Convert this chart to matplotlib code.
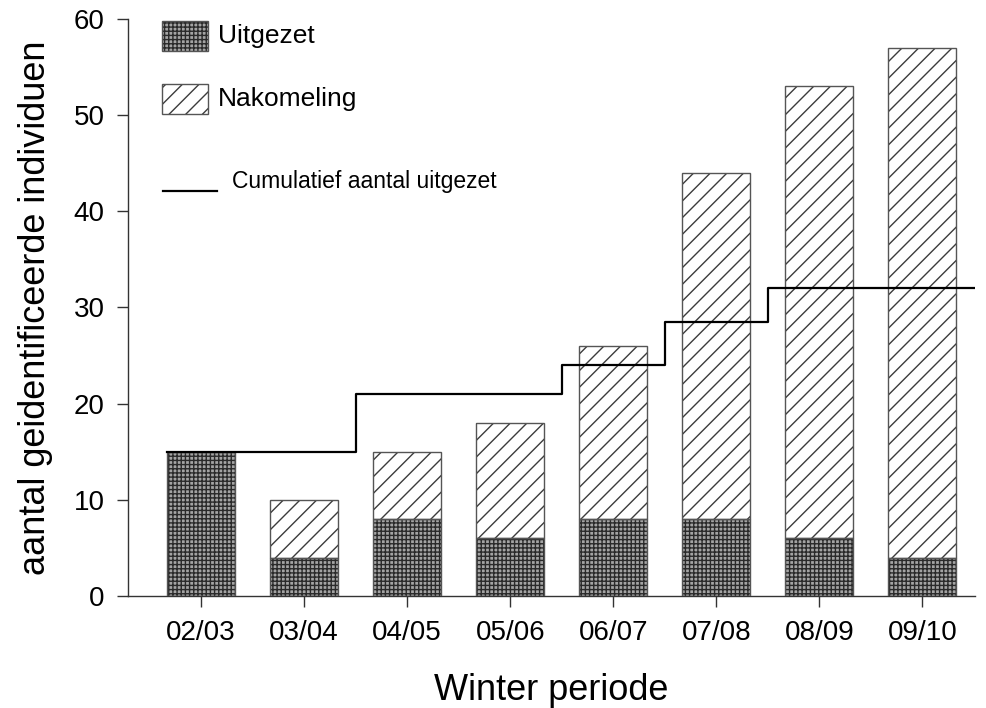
import numpy as np
import matplotlib.pyplot as plt
from matplotlib.patches import Rectangle

plt.rcParams['font.family'] = ['Liberation Sans', 'DejaVu Sans']
plt.rcParams['hatch.linewidth'] = 1.0

# data
perioden = ["02/03", "03/04", "04/05", "05/06", "06/07", "07/08", "08/09", "09/10"]
uitgezet = [15, 4, 8, 6, 8, 8, 6, 4]
totaal = [15, 10, 15, 18, 26, 44, 53, 57]
nakomeling = [t - u for t, u in zip(totaal, uitgezet)]

# cumulatief aantal uitgezet (trap-lijn), x in periode-index
cum_x = [-0.33, 1.5, 3.5, 4.5, 5.5, 7.5]
cum_y = [15, 21, 24, 28.5, 32, 32]

UIT_FACE = '#a4a4a4'
UIT_HATCH = '#2a2a2a'
NAK_HATCH = '#3c3c3c'
RAND = '#555555'

fig = plt.figure(figsize=(9.87, 7.08), dpi=100)
ax = fig.add_axes([0.1297, 0.1582, 0.8581, 0.815])

x = np.arange(len(perioden))
w = 0.66

# uitgezet: donker gerasterd
ax.bar(x, uitgezet, w, color=UIT_FACE, edgecolor=UIT_HATCH, hatch='++++', linewidth=0, zorder=2)
ax.bar(x, uitgezet, w, fill=False, edgecolor=RAND, linewidth=1.0, zorder=3)
# nakomeling: schuine arcering
ax.bar(x, nakomeling, w, bottom=uitgezet, color='white', edgecolor=NAK_HATCH, hatch='//', linewidth=0, zorder=2)
ax.bar(x, nakomeling, w, bottom=uitgezet, fill=False, edgecolor=RAND, linewidth=1.0, zorder=3)

ax.step(cum_x, cum_y, where='post', color='black', linewidth=1.6, zorder=4)

ax.set_xlim(-0.71, 7.51)
ax.set_ylim(0, 60)
ax.set_xticks(x)
ax.set_xticklabels(perioden)
ax.set_yticks(np.arange(0, 61, 10))

for s in ['top', 'right']:
    ax.spines[s].set_visible(False)
for s in ['left', 'bottom']:
    ax.spines[s].set_color('#333333')
    ax.spines[s].set_linewidth(1.0)
ax.tick_params(axis='both', labelsize=20, length=8, width=1.0, color='#333333', pad=9)

ax.set_xlabel("Winter periode", fontsize=26, labelpad=20)
ax.set_ylabel("aantal geidentificeerde individuen", fontsize=26, labelpad=15)

# legenda (handmatig)
ax.add_patch(Rectangle((0.040, 0.9445), 0.0543, 0.052, transform=ax.transAxes,
                       facecolor=UIT_FACE, edgecolor=UIT_HATCH, hatch='++++', linewidth=0, clip_on=False))
ax.add_patch(Rectangle((0.040, 0.9445), 0.0543, 0.052, transform=ax.transAxes,
                       fill=False, edgecolor=RAND, linewidth=1.0, clip_on=False))
ax.text(0.106, 0.9705, "Uitgezet", transform=ax.transAxes, fontsize=19, va='center')

ax.add_patch(Rectangle((0.040, 0.8353), 0.0543, 0.052, transform=ax.transAxes,
                       facecolor='white', edgecolor=NAK_HATCH, hatch='//', linewidth=0, clip_on=False))
ax.add_patch(Rectangle((0.040, 0.8353), 0.0543, 0.052, transform=ax.transAxes,
                       fill=False, edgecolor=RAND, linewidth=1.0, clip_on=False))
ax.text(0.106, 0.861, "Nakomeling", transform=ax.transAxes, fontsize=19, va='center')

ax.plot([0.041, 0.105], [0.7024, 0.7024], transform=ax.transAxes, color='black', linewidth=1.6)
ax.text(0.1228, 0.7175, "Cumulatief aantal uitgezet", transform=ax.transAxes, fontsize=16.5, va='center')

fig.savefig("out.png", dpi=100)
